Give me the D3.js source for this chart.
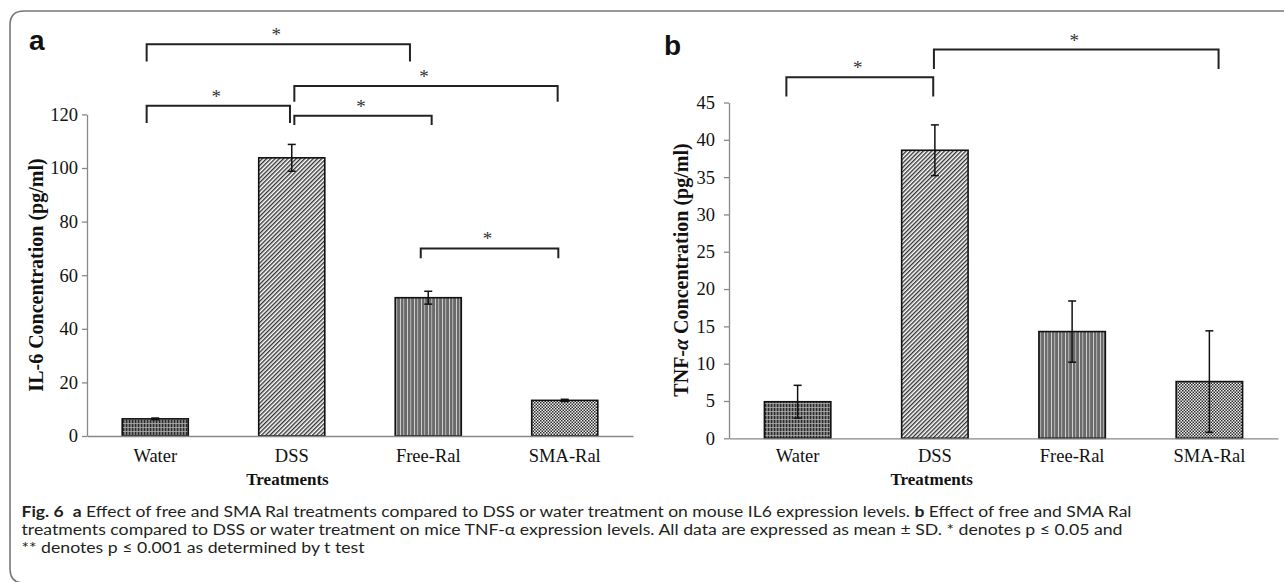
<!DOCTYPE html>
<html><head><meta charset="utf-8">
<script src="https://cdn.jsdelivr.net/npm/d3@7"></script>
<style>
html,body{margin:0;padding:0;background:#fff;}
svg{display:block;}
</style></head>
<body>
<svg id="chart" width="1284" height="582"></svg>
<script>
// ---------- data ----------
const categories = ["Water", "DSS", "Free-Ral", "SMA-Ral"];
const il6Means = [6.4, 103.8, 51.6, 13.3];
const il6SD = [0.3, 5.0, 2.4, 0.4];
const tnfMeans = [4.9, 38.6, 14.3, 7.6];
const tnfSD = [2.2, 3.4, 4.1, 6.8];
const il6Ticks = [0, 20, 40, 60, 80, 100, 120];
const tnfTicks = [0, 5, 10, 15, 20, 25, 30, 35, 40, 45];
// significance brackets: positions in category units, heights in value units
const il6Brackets = [
  {from: -0.063, to: 1.866, top: 146.2, bottom: 139.7, label: "*"},
  {from: 1.019, to: 2.948, top: 130.6, bottom: 124.7, label: "*"},
  {from: -0.063, to: 0.987, top: 123.2, bottom: 116.8, label: "*"},
  {from: 1.019, to: 2.025, top: 119.5, bottom: 116.0, label: "*"},
  {from: 1.945, to: 2.953, top: 70.0, bottom: 66.3, label: "*"}
];
const tnfBrackets = [
  {from: -0.082, to: 0.988, top: 48.4, bottom: 45.8, label: "*"},
  {from: 0.993, to: 3.067, top: 52.1, bottom: 49.5, label: "*"}
];
const patterns = ["pWater", "pDSS", "pFree", "pSMA"];
const captionLines = [
  [["Fig. 6", true], ["  ", false], ["a", true], [" Effect of free and SMA Ral treatments compared to DSS or water treatment on mouse IL6 expression levels. ", false], ["b", true], [" Effect of free and SMA Ral", false]],
  [["treatments compared to DSS or water treatment on mice TNF-\u03b1 expression levels. All data are expressed as mean \u00b1 SD. * denotes p \u2264 0.05 and", false]],
  [["** denotes p \u2264 0.001 as determined by t test", false]]
];

const svg = d3.select("#chart");
const serif = "'Liberation Serif','Times New Roman',serif";

// frame
svg.append("path")
  .attr("d", "M1300,583 L24,583 Q10,583 10,569 L10,25 Q10,11 24,11 L1300,11")
  .attr("fill", "none").attr("stroke", "#777").attr("stroke-width", 1.6);

// patterns
const defs = svg.append("defs");
{
  const p = defs.append("pattern").attr("id", "pWater").attr("patternUnits", "userSpaceOnUse").attr("width", 3).attr("height", 4);
  p.append("rect").attr("width", 3).attr("height", 4).attr("fill", "#7e7e7e");
  p.append("rect").attr("x", 0).attr("width", 1.2).attr("height", 4).attr("fill", "#2a2a2a");
  p.append("rect").attr("y", 3).attr("width", 3).attr("height", 0.8).attr("fill", "#b0b0b0");
}
{
  const p = defs.append("pattern").attr("id", "pDSS").attr("patternUnits", "userSpaceOnUse").attr("width", 3).attr("height", 3).attr("patternTransform", "rotate(45)");
  p.append("rect").attr("width", 3).attr("height", 3).attr("fill", "#fff");
  p.append("rect").attr("width", 1.4).attr("height", 3).attr("fill", "#333");
}
{
  const p = defs.append("pattern").attr("id", "pFree").attr("patternUnits", "userSpaceOnUse").attr("width", 7).attr("height", 4);
  p.append("rect").attr("width", 7).attr("height", 4).attr("fill", "#6a6a6a");
  p.append("rect").attr("x", 1).attr("width", 1).attr("height", 4).attr("fill", "#cfcfcf");
  p.append("rect").attr("x", 4).attr("width", 1.2).attr("height", 4).attr("fill", "#a8a8a8");
}
{
  const p = defs.append("pattern").attr("id", "pSMA").attr("patternUnits", "userSpaceOnUse").attr("width", 3).attr("height", 3);
  p.append("rect").attr("width", 3).attr("height", 3).attr("fill", "#f2f2f2");
  p.append("rect").attr("width", 1.5).attr("height", 1.5).attr("fill", "#2a2a2a");
  p.append("rect").attr("x", 1.5).attr("y", 1.5).attr("width", 1.5).attr("height", 1.5).attr("fill", "#2a2a2a");
}

function panel(cfg) {
  const x = d3.scaleBand().domain(categories).range([cfg.x0, cfg.x1]).paddingInner(0.516).paddingOuter(0.258);
  const y = d3.scaleLinear().domain([0, cfg.max]).range([cfg.yb, cfg.yt]);
  const step = x.step();
  const pos = i => x(categories[0]) + x.bandwidth() / 2 + i * step;
  const g = svg.append("g");

  // y axis
  const ya = g.append("g").attr("transform", `translate(${cfg.x0},0)`)
    .call(d3.axisLeft(y).tickValues(cfg.ticks).tickSize(5).tickPadding(cfg.tickPad).tickSizeOuter(0));
  ya.select(".domain").attr("stroke", "#888").attr("stroke-width", 1.3);
  ya.selectAll(".tick line").attr("stroke", "#888").attr("stroke-width", 1.3);
  ya.selectAll(".tick text").attr("font-family", serif).attr("font-size", 18.5).attr("fill", "#111");

  // bars
  g.selectAll("rect.bar").data(cfg.means).join("rect").attr("class", "bar")
    .attr("x", (d, i) => x(categories[i])).attr("width", x.bandwidth())
    .attr("y", d => y(d)).attr("height", d => y(0) - y(d))
    .attr("fill", (d, i) => `url(#${patterns[i]})`)
    .attr("stroke", "#111").attr("stroke-width", 1.6);

  // x axis
  const xa = g.append("g").attr("transform", `translate(0,${cfg.yb})`)
    .call(d3.axisBottom(x).tickSize(0).tickSizeOuter(0).tickPadding(cfg.xPad));
  xa.select(".domain").attr("stroke", "#888").attr("stroke-width", 1.3);
  xa.selectAll(".tick text").attr("font-family", serif).attr("font-size", 18.5).attr("fill", "#111");

  // error bars
  const eb = g.selectAll("g.err").data(cfg.means).join("g").attr("class", "err");
  eb.append("line").attr("x1", (d, i) => pos(i)).attr("x2", (d, i) => pos(i))
    .attr("y1", (d, i) => y(d + cfg.sd[i])).attr("y2", (d, i) => y(d - cfg.sd[i]));
  eb.append("line").attr("x1", (d, i) => pos(i) - 4).attr("x2", (d, i) => pos(i) + 4)
    .attr("y1", (d, i) => y(d + cfg.sd[i])).attr("y2", (d, i) => y(d + cfg.sd[i]));
  eb.append("line").attr("x1", (d, i) => pos(i) - 4).attr("x2", (d, i) => pos(i) + 4)
    .attr("y1", (d, i) => y(d - cfg.sd[i])).attr("y2", (d, i) => y(d - cfg.sd[i]));
  eb.selectAll("line").attr("stroke", "#111").attr("stroke-width", 1.5);

  // brackets
  const br = g.selectAll("g.br").data(cfg.brackets).join("g").attr("class", "br");
  br.append("path")
    .attr("d", b => `M${pos(b.from)},${y(b.bottom)}V${y(b.top)}H${pos(b.to)}V${y(b.bottom)}`)
    .attr("fill", "none").attr("stroke", "#222").attr("stroke-width", 2);
  br.append("text")
    .attr("x", b => (pos(b.from) + pos(b.to)) / 2 - 2)
    .attr("y", b => y(b.top) - 3)
    .attr("text-anchor", "middle").attr("font-family", serif).attr("font-size", 19).attr("fill", "#333")
    .text(b => b.label);

  // axis titles
  const yt = g.append("text")
    .attr("transform", `translate(${cfg.titleX},${cfg.titleY}) rotate(-90)`)
    .attr("text-anchor", "middle").attr("font-family", serif).attr("font-weight", "bold").attr("font-size", 20).attr("fill", "#111");
  cfg.yTitle.forEach(([t, it]) => yt.append("tspan").attr("font-style", it ? "italic" : null).text(t));

  g.append("text").attr("x", cfg.xTitleX).attr("y", 485)
    .attr("text-anchor", "middle").attr("font-family", serif).attr("font-weight", "bold").attr("font-size", 17).attr("fill", "#111")
    .text("Treatments");

  g.append("text").attr("x", cfg.labX).attr("y", cfg.labY)
    .attr("font-family", "'Liberation Sans',Arial,sans-serif").attr("font-weight", "bold").attr("font-size", 28).attr("fill", "#111")
    .text(cfg.label);
}

panel({x0: 87, x1: 633, yb: 436, yt: 114.4, max: 120, ticks: il6Ticks, tickPad: 4, xPad: 13,
  means: il6Means, sd: il6SD, brackets: il6Brackets,
  yTitle: [["IL-6 Concentration (pg/ml)", false]], titleX: 43, titleY: 275, xTitleX: 287.5,
  label: "a", labX: 29, labY: 50});
panel({x0: 729, x1: 1278, yb: 438.3, yt: 102.5, max: 45, ticks: tnfTicks, tickPad: 9, xPad: 11,
  means: tnfMeans, sd: tnfSD, brackets: tnfBrackets,
  yTitle: [["TNF-", false], ["\u03b1", true], [" Concentration (pg/ml)", false]], titleX: 688, titleY: 270, xTitleX: 931.7,
  label: "b", labX: 664, labY: 55});

// caption
const capFont = "Lato,'Open Sans','Noto Sans',sans-serif";
const capY = [517, 535, 553];
const capTargets = [1110, 1101, null];
let factor = 1;
captionLines.forEach((line, li) => {
  const t = svg.append("text").attr("x", 21.5).attr("y", capY[li])
    .attr("font-family", capFont).attr("font-size", 15.5).attr("fill", "#231f20")
    .attr("xml:space", "preserve").style("white-space", "pre");
  line.forEach(([s, b]) => t.append("tspan").attr("font-weight", b ? "bold" : null).text(s));
  const nat = t.node().getComputedTextLength();
  if (capTargets[li]) { factor = capTargets[li] / nat; t.attr("textLength", capTargets[li]); }
  else { t.attr("textLength", nat * factor); }
  t.attr("lengthAdjust", "spacingAndGlyphs");
});
</script>
</body></html>
